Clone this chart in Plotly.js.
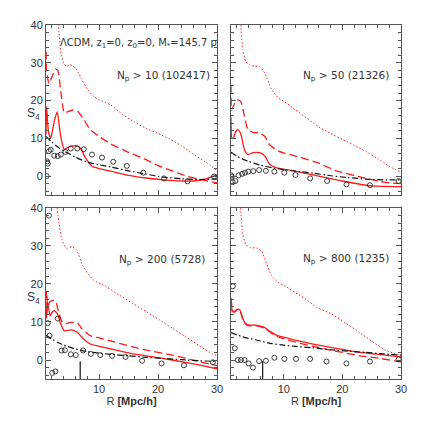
<!DOCTYPE html>
<html>
<head>
<meta charset="utf-8">
<script src="https://cdn.plot.ly/plotly-3.0.1.min.js"></script>
<style>
  html, body { margin: 0; padding: 0; background: #fff; }
  #chart { width: 424px; height: 424px; }
</style>
</head>
<body>
<div id="chart"></div>
<script>
// ── DATA ─────────────────────────────────────────────
// top-left: Np > 10
const R_TL_DOT  = [2.9, 3.2, 3.6, 4.0, 4.5, 5.0, 5.5, 6.0, 6.5, 7.0, 8.0, 9.0, 10, 12, 14, 16, 18, 20, 22, 24, 26, 28, 30];
const S4_TL_DOT = [45, 38, 32, 29.8, 29.0, 29.5, 29.2, 28.5, 27.3, 25.8, 23, 21.2, 20.2, 18.8, 16.3, 14.3, 12.6, 11.3, 9.8, 8.0, 5.8, 3.8, 1.5];
const R_TL_DASH  = [1.0, 1.1, 1.5, 2.2, 2.6, 3.0, 3.5, 4.1, 4.6, 5.5, 6.3, 7.4, 8.5, 10, 12, 15, 17.5, 20, 22.5, 25, 27.5, 30];
const S4_TL_DASH = [33, 28, 24.5, 27, 28.3, 28, 22.5, 16.7, 17, 17.5, 17.3, 15, 12.3, 10.5, 8.5, 6.3, 4.7, 2.8, 1.3, -0.1, -1.0, -1.8];
const R_TL_SOLID  = [1.0, 1.1, 1.4, 1.8, 2.4, 2.9, 3.5, 4.1, 4.6, 5.2, 6.3, 7.0, 7.7, 8.8, 10, 12, 15, 18, 21, 24, 26, 28, 30];
const S4_TL_SOLID = [11, 18.4, 12, 10, 14.5, 17, 10.5, 7, 7.5, 7.9, 8.0, 7.0, 4.8, 2.6, 2.0, 1.3, 0.2, -0.5, -1.0, -1.3, -1.3, -0.8, 0.3];
const R_TL_DD  = [1, 2, 3, 4, 6, 8, 10, 12, 15, 18, 21, 24, 27, 30];
const S4_TL_DD = [10.5, 9.0, 7.7, 6.7, 5.0, 3.7, 3.0, 2.4, 1.4, 0.5, -0.3, -0.7, -0.9, -0.8];
const R_TL_PTS  = [1.1, 1.2, 1.3, 1.5, 1.8, 2.4, 3.0, 3.5, 4.3, 5.2, 6.3, 7.4, 8.8, 10.5, 12.4, 14.7, 17.5, 21, 25, 29.5];
const S4_TL_PTS = [0, 3.9, 3.3, 6.6, 7.0, 5.4, 5.3, 5.7, 6.4, 7.3, 7.3, 7.1, 5.7, 4.9, 3.8, 2.7, 0.9, -0.6, -1.4, -0.1];

// top-right: Np > 50
const R_TR_DOT  = [2.6, 3.0, 3.5, 4.2, 5.0, 5.9, 6.8, 7.9, 9, 10.5, 12, 14, 16, 18, 20, 22, 24, 26, 28, 30];
const S4_TR_DOT = [42, 33.5, 30.3, 29.4, 29.1, 29, 27.2, 23, 20.8, 19.3, 17.5, 15.3, 13, 11.3, 9.7, 8.2, 6.5, 4.7, 2.6, 1.0];
const R_TR_DASH  = [1.0, 1.1, 1.4, 1.8, 2.2, 2.7, 3.3, 3.9, 4.75, 5.9, 6.8, 7.6, 9.1, 12, 15.5, 19, 23.5, 27, 30];
const S4_TR_DASH = [24, 17.5, 18.5, 19.8, 20.2, 19.7, 15.8, 12.3, 11.6, 11.4, 10.5, 8.3, 6.6, 5.3, 3.7, 1.4, -0.4, -1.6, -2.0];
const R_TR_SOLID  = [1.0, 1.15, 1.4, 1.8, 2.2, 2.7, 3.3, 3.9, 4.75, 5.9, 6.8, 7.6, 8.8, 12, 15, 20, 25, 30];
const S4_TR_SOLID = [15.5, 10.1, 10.0, 11.8, 12.3, 11.0, 7.0, 5.7, 6.2, 6.2, 5.3, 3.1, 2.2, 1.3, 0.3, -1.3, -2.6, -2.8];
const R_TR_DD  = [1, 2, 3, 4, 6, 8, 10, 12, 15, 18, 21, 24, 27, 30];
const S4_TR_DD = [6.3, 5.3, 4.5, 3.9, 2.9, 2.2, 1.7, 1.3, 0.8, 0.1, -0.4, -0.8, -1.0, -1.0];
const R_TR_PTS  = [1.05, 1.1, 1.3, 1.75, 2.3, 2.9, 3.4, 3.95, 4.8, 5.8, 6.95, 8.4, 10.1, 12, 14.5, 17.4, 20.7, 24.7, 29.6];
const S4_TR_PTS = [0.2, -0.2, -1.6, -1.3, 0.2, 0.6, 0.9, 1.2, 1.3, 1.6, 1.4, 1.2, 0.9, 0.3, -0.6, -1.3, -2.2, -2.4, -1.3];

// bottom-left: Np > 200
const R_BL_DOT  = [2.8, 3.2, 3.7, 4.5, 5.4, 6.2, 7.3, 9.0, 11.2, 13.5, 15.7, 18, 20.2, 22.5, 24.7, 27, 29.2, 30];
const S4_BL_DOT = [41, 36, 31.6, 29.4, 29.8, 28.9, 24.6, 21.1, 19.3, 17.0, 14.9, 12.7, 10.6, 8.3, 6.1, 3.8, 1.6, 1.2];
const R_BL_DASH  = [1.0, 1.1, 1.3, 1.6, 2.0, 2.6, 3.2, 3.8, 4.4, 5.2, 6.3, 7.1, 8.5, 10, 12, 15.5, 18, 22.4, 26.9, 30];
const S4_BL_DASH = [13, 18, 14, 15.2, 15.6, 15.6, 12.2, 9.9, 9.6, 9.9, 9.8, 8.2, 6.4, 5.8, 5.0, 3.5, 2.6, 1.3, -0.4, -1.5];
const R_BL_SOLID  = [1.0, 1.1, 1.3, 1.7, 2.0, 2.4, 2.95, 3.5, 4.1, 5.2, 6.3, 7.4, 8.5, 10, 12, 15.5, 18, 22.4, 26.9, 30];
const S4_BL_SOLID = [14, 11, 15, 11.6, 12.5, 13, 12.1, 9.5, 7.7, 7.9, 7.3, 5.5, 4.2, 3.6, 2.9, 1.7, 1.1, 0, -1.3, -2.3];
const R_BL_DD  = [1, 2, 3, 4, 6, 8, 10, 12, 15, 18, 21, 24, 27, 30];
const S4_BL_DD = [6.5, 5.5, 4.6, 3.9, 2.9, 2.2, 1.8, 1.5, 1.1, 0.7, 0.4, 0.1, -0.2, -0.4];
const R_BL_PTS  = [1.5, 1.3, 1.6, 2.05, 2.6, 3.0, 3.65, 4.2, 5.2, 6.05, 7.3, 8.6, 10.2, 12.2, 14.5, 17.3, 20.6, 24.4, 29.3];
const S4_BL_PTS = [38, 9.7, 6.4, -3.4, -3.0, 10.9, 2.5, 2.6, 1.5, 1.3, 2.5, 1.6, 1.3, 1.1, 0.8, -0.2, -0.9, -1.4, -0.6];
const R_BL_MARK  = [6.8, 6.8];
const S4_BL_MARK = [-5, -0.3];

// bottom-right: Np > 800
const R_BR_DOT  = [2.6, 3.0, 3.6, 4.4, 5.3, 6.2, 6.8, 7.9, 9.0, 10.5, 12, 13.5, 15.7, 18, 20.5, 23, 25, 27.2, 29, 30];
const S4_BR_DOT = [41, 33.2, 30.2, 29.5, 29.5, 28.7, 26.5, 22.2, 20.5, 19.2, 17.7, 16.3, 13.8, 12.2, 9.8, 7.1, 5.0, 2.7, 1.6, 1.3];
const R_BR_LINES  = [1.0, 1.05, 1.2, 1.6, 2.0, 2.5, 3.0, 3.5, 4.1, 5.0, 5.9, 6.7, 7.8, 8.8, 10, 12, 15, 17.3, 20, 23, 26.5, 30];
const S4_BR_SOLID = [15.8, 16.2, 13, 12.8, 13.3, 13.2, 11.0, 9.6, 9.2, 9.2, 9.0, 8.6, 7.4, 6.5, 6.0, 5.2, 4.2, 3.5, 2.8, 2.0, 1.4, 0.8];
const S4_BR_DASH  = [15.5, 16, 12.8, 12.6, 13.1, 13.0, 10.8, 9.4, 9.0, 9.0, 8.8, 8.4, 7.2, 6.2, 5.6, 4.7, 3.6, 2.8, 2.0, 1.1, 0.4, -0.5];
const R_BR_DD  = [1, 2, 3, 4, 6, 8, 10, 12, 15, 18, 21, 24, 27, 30];
const S4_BR_DD = [7.2, 6.6, 6.1, 5.7, 5.0, 4.3, 3.9, 3.6, 3.2, 2.7, 2.3, 2.0, 1.6, 1.3];
const R_BR_PTS  = [1.3, 1.65, 2.15, 2.7, 3.3, 4.0, 4.75, 5.8, 6.95, 8.4, 10.1, 12.1, 14.5, 17.3, 20.7, 24.7, 29.6];
const S4_BR_PTS = [19.4, 3.1, 0, 0, 0, -0.9, -2.0, -0.3, -0.2, 0.6, 0.3, 0.3, 0.3, -0.4, -0.9, -0.4, 0.2];
const R_BR_MARK  = [6.4, 6.4];
const S4_BR_MARK = [-5, -0.3];

const PANEL_LABELS = ['N<sub>p</sub> > 10 (102417)', 'N<sub>p</sub> > 50 (21326)',
                      'N<sub>p</sub> > 200 (5728)', 'N<sub>p</sub> > 800 (1235)'];
const MODEL_LABEL = '\u039BCDM, z<sub>1</sub>=0, z<sub>0</sub>=0, M<sub>*</sub>=145.7 p';

// ── STYLE ────────────────────────────────────────────
const RED = '#ff1a1a';
const FONT = 'Liberation Sans, Arial, sans-serif';
const WIDE = 'DejaVu Sans, sans-serif';

function lineTrace(x, y, ax, dash, color, width) {
  return {
    x, y, xaxis: 'x' + ax, yaxis: 'y' + ax, type: 'scatter', mode: 'lines',
    line: { color, width, dash, shape: 'spline', smoothing: 0.5 },
    hoverinfo: 'skip', showlegend: false
  };
}

function pointTrace(x, y, ax) {
  return {
    x, y, xaxis: 'x' + ax, yaxis: 'y' + ax, type: 'scatter', mode: 'markers',
    marker: { symbol: 'circle-open', size: 5, color: '#111', line: { width: 0.8, color: '#111' } },
    hoverinfo: 'skip', showlegend: false
  };
}

function panel(ax, d) {
  const out = [
    lineTrace(d.dotX, d.dotY, ax, '1.5px,2px', RED, 1),
    lineTrace(d.dashX, d.dashY, ax, '8px,4px', RED, 1.3),
    lineTrace(d.solX, d.solY, ax, 'solid', RED, 1.3),
    lineTrace(d.ddX, d.ddY, ax, '6px,2.5px,1.5px,2.5px', '#111', 1.2),
    pointTrace(d.ptX, d.ptY, ax)
  ];
  if (d.markX) {
    out.push({ x: d.markX, y: d.markY, xaxis: 'x' + ax, yaxis: 'y' + ax, type: 'scatter',
      mode: 'lines', line: { color: '#111', width: 1.2 }, hoverinfo: 'skip', showlegend: false });
  }
  return out;
}

const traces = [
  ...panel('', { dotX: R_TL_DOT, dotY: S4_TL_DOT, dashX: R_TL_DASH, dashY: S4_TL_DASH,
    solX: R_TL_SOLID, solY: S4_TL_SOLID, ddX: R_TL_DD, ddY: S4_TL_DD, ptX: R_TL_PTS, ptY: S4_TL_PTS }),
  ...panel('2', { dotX: R_TR_DOT, dotY: S4_TR_DOT, dashX: R_TR_DASH, dashY: S4_TR_DASH,
    solX: R_TR_SOLID, solY: S4_TR_SOLID, ddX: R_TR_DD, ddY: S4_TR_DD, ptX: R_TR_PTS, ptY: S4_TR_PTS }),
  ...panel('3', { dotX: R_BL_DOT, dotY: S4_BL_DOT, dashX: R_BL_DASH, dashY: S4_BL_DASH,
    solX: R_BL_SOLID, solY: S4_BL_SOLID, ddX: R_BL_DD, ddY: S4_BL_DD, ptX: R_BL_PTS, ptY: S4_BL_PTS,
    markX: R_BL_MARK, markY: S4_BL_MARK }),
  ...panel('4', { dotX: R_BR_DOT, dotY: S4_BR_DOT, dashX: R_BR_LINES, dashY: S4_BR_DASH,
    solX: R_BR_LINES, solY: S4_BR_SOLID, ddX: R_BR_DD, ddY: S4_BR_DD, ptX: R_BR_PTS, ptY: S4_BR_PTS,
    markX: R_BR_MARK, markY: S4_BR_MARK })
];

// ── AXES ─────────────────────────────────────────────
const AX = {
  showgrid: false, zeroline: false, showline: true, linecolor: '#555', linewidth: 1,
  mirror: 'allticks', ticks: 'inside', ticklen: 5, tickwidth: 1, tickcolor: '#555',
  tick0: 0, dtick: 10,
  minor: { ticks: 'inside', ticklen: 3, tick0: 0, dtick: 2, tickcolor: '#555', showgrid: false },
  tickfont: { family: FONT, size: 11, color: '#333' }
};
const XR = [1, 30], YR = [-5, 40];
const XL = [0, 0.4817], XRgt = [0.5211, 1];
const YT = [0.5198, 1], YB = [0, 0.4831];
const XTITLE = { text: 'R <b>[Mpc/h]</b>', font: { family: FONT, size: 11, color: '#333' }, standoff: 0 };

const annotations = [
  { xref: 'x', yref: 'y', x: 3.0, y: 35.1, xanchor: 'left', yanchor: 'middle', text: MODEL_LABEL, font: { family: WIDE, size: 10, color: '#333' } },
  { xref: 'x', yref: 'y', x: 29.2, y: 26.5, xanchor: 'right', yanchor: 'middle', text: PANEL_LABELS[0] },
  { xref: 'x2', yref: 'y2', x: 28.3, y: 26.5, xanchor: 'right', yanchor: 'middle', text: PANEL_LABELS[1] },
  { xref: 'x3', yref: 'y3', x: 28.3, y: 26.3, xanchor: 'right', yanchor: 'middle', text: PANEL_LABELS[2] },
  { xref: 'x4', yref: 'y4', x: 28.3, y: 26.5, xanchor: 'right', yanchor: 'middle', text: PANEL_LABELS[3] },
  { xref: 'paper', yref: 'paper', x: -0.034, y: 0.749, xanchor: 'center', yanchor: 'middle', text: 'S<sub>4</sub>', font: { family: FONT, size: 12, color: '#333' } },
  { xref: 'paper', yref: 'paper', x: -0.034, y: 0.229, xanchor: 'center', yanchor: 'middle', text: 'S<sub>4</sub>', font: { family: FONT, size: 12, color: '#333' } }
].map(a => ({ showarrow: false, font: { family: WIDE, size: 10.5, color: '#333' }, ...a }));

const layout = {
  width: 424, height: 424,
  margin: { l: 46, r: 23, t: 25, b: 45 },
  paper_bgcolor: '#fff', plot_bgcolor: '#fff',
  font: { family: FONT, color: '#333' },
  xaxis:  { ...AX, range: XR, domain: XL,   anchor: 'y',  showticklabels: false },
  yaxis:  { ...AX, range: YR, domain: YT,   anchor: 'x' },
  xaxis2: { ...AX, range: XR, domain: XRgt, anchor: 'y2', showticklabels: false },
  yaxis2: { ...AX, range: YR, domain: YT,   anchor: 'x2', showticklabels: false },
  xaxis3: { ...AX, range: XR, domain: XL,   anchor: 'y3', title: XTITLE },
  yaxis3: { ...AX, range: YR, domain: YB,   anchor: 'x3' },
  xaxis4: { ...AX, range: XR, domain: XRgt, anchor: 'y4', title: XTITLE },
  yaxis4: { ...AX, range: YR, domain: YB,   anchor: 'x4', showticklabels: false },
  annotations
};

Plotly.newPlot('chart', traces, layout, { staticPlot: true, displayModeBar: false });
</script>
</body>
</html>
